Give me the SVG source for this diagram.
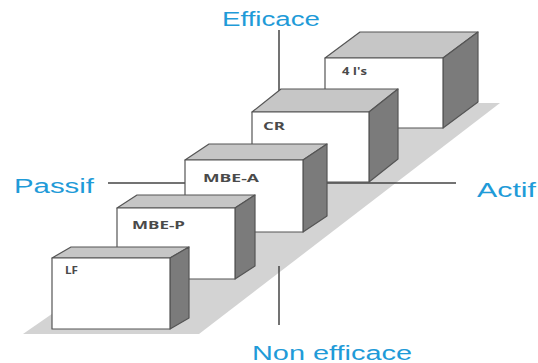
<svg xmlns="http://www.w3.org/2000/svg" width="538" height="363" viewBox="0 0 538 363">
<style>
.front{fill:#ffffff;stroke:#555555;stroke-width:1.2;stroke-linejoin:round}
.top{fill:#c6c6c6;stroke:#555555;stroke-width:1.2;stroke-linejoin:round}
.side{fill:#7b7b7b;stroke:#555555;stroke-width:1.2;stroke-linejoin:round}
.lbl{font-family:"Open Sans","Liberation Sans",sans-serif;font-weight:bold;font-size:10.5px;fill:#4a4a4a}
.axis{font-family:"Liberation Sans",Arial,sans-serif;font-size:20px;fill:#1f9bd8}
.ax{stroke:#444444;stroke-width:1.5;fill:none}
</style>
<rect width="538" height="363" fill="#ffffff"/>
<polygon id="shadow" points="23,334 199,334 500,103 356,103" fill="#d3d3d3"/>
<g id="connectors">
<line class="ax" x1="279" y1="30" x2="279" y2="100"/>
<line class="ax" x1="279" y1="266" x2="279" y2="325"/>
<line class="ax" x1="108" y1="183" x2="456" y2="183"/>
</g>
<g id="box-4is">
<polygon class="top" points="325,58 360,32 478,32 443,58"/>
<polygon class="side" points="443,58 478,32 478,102 443,128"/>
<rect class="front" x="325" y="58" width="118" height="70"/>
<text class="lbl" x="342" y="75" textLength="25" lengthAdjust="spacingAndGlyphs">4 I's</text>
</g>
<g id="box-cr">
<polygon class="top" points="252,112 281,89 398,89 369,112"/>
<polygon class="side" points="369,112 398,89 398,159 369,182"/>
<rect class="front" x="252" y="112" width="117" height="70"/>
<text class="lbl" x="263" y="130" textLength="22" lengthAdjust="spacingAndGlyphs">CR</text>
</g>
<g id="box-mbea">
<polygon class="top" points="185,160 209,144 327,144 303,160"/>
<polygon class="side" points="303,160 327,144 327,216 303,232"/>
<rect class="front" x="185" y="160" width="118" height="72"/>
<text class="lbl" x="203" y="182" textLength="56" lengthAdjust="spacingAndGlyphs">MBE-A</text>
</g>
<g id="box-mbep">
<polygon class="top" points="117,208 137,195 255,195 235,208"/>
<polygon class="side" points="235,208 255,195 255,266 235,279"/>
<rect class="front" x="117" y="208" width="118" height="71"/>
<text class="lbl" x="132" y="229" textLength="53" lengthAdjust="spacingAndGlyphs">MBE-P</text>
</g>
<g id="box-lf">
<polygon class="top" points="52,258 71,247 189,247 170,258"/>
<polygon class="side" points="170,258 189,247 189,318 170,329"/>
<rect class="front" x="52" y="258" width="118" height="71"/>
<text class="lbl" x="65" y="274" textLength="13" lengthAdjust="spacingAndGlyphs">LF</text>
</g>
<g id="labels">
<text class="axis" x="222" y="26" textLength="98" lengthAdjust="spacingAndGlyphs">Efficace</text>
<text class="axis" x="14" y="193" textLength="80" lengthAdjust="spacingAndGlyphs">Passif</text>
<text class="axis" x="477" y="197" textLength="59" lengthAdjust="spacingAndGlyphs">Actif</text>
<text class="axis" x="252" y="360" font-size="21" textLength="160" lengthAdjust="spacingAndGlyphs">Non efficace</text>
</g>
</svg>
